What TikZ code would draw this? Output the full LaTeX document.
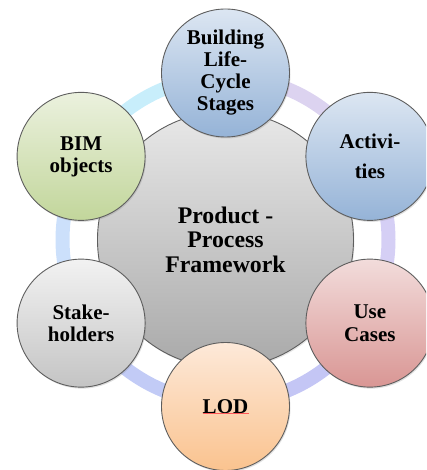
\documentclass[tikz,border=0pt]{standalone}
\usepackage{fontspec}
\setmainfont{Liberation Serif}
\usetikzlibrary{shadows}
\definecolor{bordergray}{HTML}{5E5E5E}
\definecolor{ringA}{HTML}{C8EEFB}
\definecolor{ringB}{HTML}{DCD3F0}
\definecolor{ringC}{HTML}{D5CFF5}
\definecolor{ringD}{HTML}{C4C6F5}
\definecolor{ringE}{HTML}{C2CBF6}
\definecolor{ringF}{HTML}{CCE0FB}
\definecolor{blueT}{HTML}{DCE6F2}
\definecolor{blueB}{HTML}{95B3D7}
\definecolor{greenT}{HTML}{EBF1DE}
\definecolor{greenB}{HTML}{C2D69B}
\definecolor{redT}{HTML}{F2DCDB}
\definecolor{redB}{HTML}{D99694}
\definecolor{orangeT}{HTML}{FDE9D9}
\definecolor{orangeB}{HTML}{FAC38F}
\definecolor{grayT}{HTML}{F2F2F2}
\definecolor{grayB}{HTML}{C4C4C4}
\definecolor{hubT}{HTML}{E8E8E8}
\definecolor{hubB}{HTML}{A9A9A9}
\begin{document}
\begin{tikzpicture}[x=1pt,y=1pt,
  sat/.style={circle, minimum size=128pt, inner sep=0pt, draw=bordergray, line width=0.9pt,
    align=center, font=\fontsize{21}{22}\selectfont\bfseries,
    drop shadow={shadow xshift=1pt, shadow yshift=-1.5pt, opacity=0.25}},
  hub/.style={circle, minimum size=256pt, inner sep=0pt, draw=bordergray, line width=0.9pt,
    align=center, font=\fontsize{23.8}{24.5}\selectfont\bfseries,
    top color=hubT, bottom color=hubB,
    drop shadow={shadow xshift=1pt, shadow yshift=-1.5pt, opacity=0.2}},
  ringseg/.style={line width=14pt}]
\useasboundingbox (-225.5,-230.25) rectangle (200.5,239.75);
\clip (-225.5,-230.25) rectangle (200.5,239.75);
% ring
\draw[ringseg, draw=ringA] (90:163) arc[start angle=90, end angle=150, radius=163];
\draw[ringseg, draw=ringB] (30:163) arc[start angle=30, end angle=90, radius=163];
\draw[ringseg, draw=ringC] (-30:163) arc[start angle=-30, end angle=30, radius=163];
\draw[ringseg, draw=ringD] (-90:163) arc[start angle=-90, end angle=-30, radius=163];
\draw[ringseg, draw=ringE] (-150:163) arc[start angle=-150, end angle=-90, radius=163];
\draw[ringseg, draw=ringF] (150:163) arc[start angle=150, end angle=210, radius=163];
% hub
\node[hub] (hub) at (0,0) {Product -\\Process\\Framework};
% satellites
\node[sat, top color=blueT, bottom color=blueB] (blc) at (90:166.75) {Building\\Life-\\Cycle\\Stages};
\node[sat, top color=blueT, bottom color=blueB] (act) at (30:166.75) {Activi-\\[8pt]ties};
\node[sat, top color=redT, bottom color=redB] (use) at (-30:166.75) {Use\\[1pt]Cases};
\node[sat, top color=orangeT, bottom color=orangeB] (lod) at (-90:166.75) {LOD};
\node[sat, top color=grayT, bottom color=grayB] (stk) at (-150:166.75) {Stake-\\holders};
\node[sat, top color=greenT, bottom color=greenB] (bim) at (150:166.75) {BIM\\objects};
\draw[red!65, line width=0.4pt] ([xshift=-23pt,yshift=-6.5pt]lod.center) -- ([xshift=23pt,yshift=-6.5pt]lod.center);
\end{tikzpicture}
\end{document}
